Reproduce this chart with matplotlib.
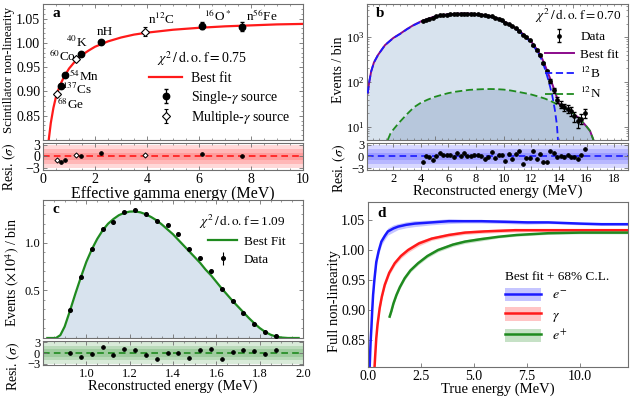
import numpy as np
import matplotlib
matplotlib.use('Agg')
import matplotlib.pyplot as plt
from matplotlib.ticker import MultipleLocator, FixedLocator
from matplotlib.lines import Line2D
from matplotlib.patches import Patch

plt.rcParams['font.family'] = ['Liberation Serif', 'DejaVu Serif']
plt.rcParams['mathtext.fontset'] = 'stix'
plt.rcParams['axes.unicode_minus'] = True

# ---------------- data: panel a (non-linearity from gamma sources)
a_fit_x = [0.22, 0.3, 0.4, 0.5, 0.6, 0.7, 0.8, 1.0, 1.25, 1.5, 1.75, 2.0, 2.5,
           3.0, 3.5, 4.0, 5.0, 6.0, 7.0, 8.0, 9.0, 10.0]
a_fit_y = [0.80, 0.835, 0.866, 0.889, 0.905, 0.918, 0.929, 0.947, 0.963, 0.975,
           0.984, 0.992, 1.003, 1.011, 1.017, 1.021, 1.027, 1.031, 1.034, 1.036,
           1.038, 1.039]
single_names = [r'$^{137}$Cs', r'$^{54}$Mn', r'$^{40}$K', 'nH', r'$^{16}$O$^*$', r'n$^{56}$Fe']
single_x = [0.68, 0.86, 1.47, 2.24, 6.13, 7.67]
single_y = [0.912, 0.934, 0.977, 1.002, 1.035, 1.033]
single_err = [0.003, 0.003, 0.003, 0.003, 0.007, 0.009]
single_res = [-1.5, -0.95, 0.2, 0.9, 0.65, 0.0]
multi_names = [r'$^{68}$Ge', r'$^{60}$Co', r'n$^{12}$C']
multi_x = [0.54, 1.27, 3.91]
multi_y = [0.894, 0.967, 1.023]
multi_err = [0.003, 0.003, 0.009]
multi_res = [-0.8, 0.3, 0.35]
# label anchor (left, centre) for each source name, same order as above
single_lab_x = [0.75, 1.0, 0.88, 2.05, 6.2, 7.82]
single_lab_y = [0.904, 0.932, 1.0, 1.023, 1.055, 1.055]
multi_lab_x = [0.54, 0.24, 4.04]
multi_lab_y = [0.874, 0.972, 1.048]

# ---------------- data: panel b (12B / 12N spectrum)
b_fit_x = [0.15, 0.25, 0.4, 0.6, 0.9, 1.4, 2.0, 2.5, 3.0, 3.5, 4.0, 4.5, 5.0, 5.5,
           6.0, 6.5, 7.0, 7.5, 8.0, 8.5, 9.0, 9.5, 10.0, 10.5, 11.0, 11.5, 12.0,
           12.5, 12.75, 13.0, 13.25, 13.5, 13.7, 13.85, 14.0, 14.5, 15.0, 15.5,
           16.0, 16.25, 16.5]
b_fit_y = [55, 95, 170, 270, 400, 660, 955, 1190, 1520, 1880, 2240, 2550, 2900,
           3100, 3240, 3320, 3365, 3345, 3270, 3150, 2950, 2665, 2260, 1860, 1480,
           1115, 790, 485, 350, 230, 145, 92, 62, 45, 32, 25, 20, 15, 10, 8, 5]
b12_x = [0.15, 0.25, 0.4, 0.6, 0.9, 1.4, 2.0, 2.5, 3.0, 3.5, 4.0, 4.5, 5.0, 5.5,
         6.0, 6.5, 7.0, 7.5, 8.0, 8.5, 9.0, 9.5, 10.0, 10.5, 11.0, 11.5, 12.0,
         12.5, 12.75, 13.0, 13.25, 13.5, 13.7, 13.85, 13.95]
b12_y = [55, 95, 170, 270, 400, 660, 950, 1180, 1500, 1850, 2200, 2500, 2850,
         3050, 3180, 3260, 3300, 3280, 3200, 3080, 2880, 2600, 2200, 1800, 1420,
         1060, 740, 440, 310, 190, 105, 52, 24, 11, 4]
n12_x = [1.6, 1.8, 2.0, 2.4, 3.0, 3.5, 4.0, 4.5, 5.0, 5.5, 6.0, 6.5, 7.0, 7.5, 8.0,
         8.5, 9.0, 9.5, 10.0, 10.5, 11.0, 11.5, 12.0, 12.5, 13.0, 13.5, 14.0,
         14.5, 15.0, 15.5, 16.0, 16.25, 16.5]
n12_y = [5, 7, 8.5, 12, 19, 27, 34, 40, 46, 51, 56, 60, 63, 66, 67.5, 68.5, 69,
         68.5, 67, 64, 60, 56, 52, 47, 42, 36, 30, 25, 20, 15, 10, 8, 5]
b_data_x = [4.125 + 0.25 * i for i in range(48)]
b_data_y = [2300, 2420, 2570, 2730, 2940, 3050, 3110, 3190, 3260, 3290, 3330, 3350,
            3370, 3340, 3320, 3290, 3230, 3190, 3090, 3020, 2900, 2730, 2570, 2380,
            2110, 1930, 1740, 1570, 1350, 1140, 1010, 845, 650, 520, 390, 265, 175,
            104, 64, 40, 31, 27, 25, 22, 17, 13, 15, 20]
b_res = [-1.3, 0.2, -0.2, -0.9, 0.0, 0.8, 0.35, 0.35, 0.35, -0.2, 0.85, 0.0,
         0.9, 0.1, 0.0, 0.35, 0.35, 0.2, -0.55, -0.2, 1.1, -0.35, 0.35, 0.35,
         -1.15, 0.7, -0.6, 0.55, 1.5, -2.0, -0.35, -0.35, 1.3, -0.55, 0.7, -1.3,
         -1.3, 1.4, 0.9, -0.25, 0.1, -0.25, 0.5, -0.2, -0.25, -0.55, 0.4, 2.0]

# ---------------- data: panel c (low energy spectrum, x 10^4)
c_fit_x = [0.82, 0.86, 0.88, 0.90, 0.925, 0.95, 0.975, 1.0, 1.025, 1.05, 1.075,
           1.10, 1.125, 1.15, 1.175, 1.20, 1.225, 1.25, 1.275, 1.30, 1.325, 1.35,
           1.375, 1.40, 1.425, 1.45, 1.475, 1.50, 1.525, 1.55, 1.575, 1.60, 1.625,
           1.65, 1.675, 1.70, 1.725, 1.75, 1.775, 1.80, 1.825, 1.85, 1.875, 1.90,
           1.93, 1.98]
c_fit_y = [0.0, 0.0, 0.03, 0.12, 0.29, 0.47, 0.64, 0.80, 0.93, 1.04, 1.13, 1.20,
           1.25, 1.29, 1.315, 1.328, 1.33, 1.32, 1.30, 1.27, 1.235, 1.19, 1.14,
           1.09, 1.03, 0.97, 0.91, 0.85, 0.79, 0.72, 0.66, 0.59, 0.52, 0.455, 0.39,
           0.33, 0.27, 0.21, 0.155, 0.105, 0.065, 0.035, 0.015, 0.005, 0.0, 0.0]
c_data_x = [0.925, 0.975, 1.025, 1.075, 1.125, 1.175, 1.225, 1.275, 1.325, 1.375,
            1.425, 1.475, 1.525, 1.575, 1.625, 1.675, 1.725, 1.775, 1.825, 1.875]
c_data_y = [0.29, 0.64, 0.933, 1.15, 1.22, 1.32, 1.34, 1.30, 1.23, 1.19, 1.09,
            0.94, 0.84, 0.70, 0.51, 0.39, 0.264, 0.148, 0.067, 0.017]
c_res = [0.0, -1.25, -0.3, 1.65, -0.65, 1.15, 0.75, -0.45, -1.7, 0.05, 0.05,
         -1.5, 0.75, 1.25, -1.8, 0.35, 0.95, 0.55, -0.25, 0.9]

# ---------------- data: panel d (full non-linearity)
de_x = [0.05, 0.08, 0.12, 0.16, 0.2, 0.24, 0.3, 0.39, 0.5, 0.63, 0.8, 0.94, 1.2,
        1.42, 1.8, 2.2, 3.0, 3.8, 4.5, 5.35, 6.5, 7.5, 8.5, 10.0, 11.0, 12.25]
de_y = [0.75, 0.806, 0.845, 0.87, 0.90, 0.925, 0.95, 0.98, 0.998, 1.014, 1.024,
        1.031, 1.036, 1.039, 1.042, 1.044, 1.046, 1.048, 1.048, 1.048, 1.047,
        1.046, 1.046, 1.044, 1.043, 1.043]
de_err = [0.006, 0.006, 0.006, 0.006, 0.006, 0.006, 0.006, 0.006, 0.006, 0.006,
          0.006, 0.006, 0.006, 0.005, 0.005, 0.005, 0.004, 0.004, 0.003, 0.003,
          0.003, 0.003, 0.002, 0.002, 0.002, 0.002]
dg_x = [0.28, 0.31, 0.35, 0.39, 0.45, 0.55, 0.65, 0.79, 1.0, 1.26, 1.55, 1.89,
        2.4, 3.0, 3.8, 4.57, 5.5, 6.93, 8.5, 10.0, 12.25]
dg_y = [0.78, 0.806, 0.83, 0.853, 0.876, 0.903, 0.922, 0.942, 0.962, 0.978, 0.99,
        1.0, 1.011, 1.019, 1.025, 1.029, 1.031, 1.033, 1.033, 1.033, 1.033]
dg_err = [0.004, 0.004, 0.004, 0.004, 0.004, 0.004, 0.004, 0.004, 0.004, 0.004,
          0.004, 0.004, 0.004, 0.003, 0.003, 0.003, 0.003, 0.003, 0.002, 0.002, 0.002]
dp_x = [1.02, 1.1, 1.2, 1.34, 1.5, 1.73, 2.0, 2.36, 2.8, 3.3, 4.0, 4.57, 5.3,
        6.14, 7.0, 8.5, 10.0, 12.25]
dp_y = [0.889, 0.898, 0.911, 0.925, 0.938, 0.953, 0.966, 0.978, 0.99, 1.0, 1.009,
        1.014, 1.018, 1.022, 1.025, 1.028, 1.029, 1.029]
dp_err = [0.003, 0.003, 0.003, 0.003, 0.003, 0.003, 0.003, 0.003, 0.003, 0.003,
          0.003, 0.003, 0.003, 0.002, 0.002, 0.002, 0.002, 0.002]

RED = '#ff1a1a'
BLUE = '#1a1aff'
GREEN = '#1f8a1f'
PURPLE = '#8b0a8b'
FRAME = '#707070'
FILL = '#d8e3ee'
FILL2 = '#b7c7dc'

W, H = 635, 398
fig = plt.figure(figsize=(W / 100, H / 100), dpi=100)


def px_axes(l, t, r, b):
    return fig.add_axes([l / W, 1 - b / H, (r - l) / W, (b - t) / H])


def style(ax, size=9):
    for s in ax.spines.values():
        s.set_color(FRAME)
        s.set_linewidth(0.8)
    ax.tick_params(which='both', direction='in', top=True, right=True,
                   color=FRAME, labelsize=size, pad=2)
    ax.tick_params(which='major', length=3, width=0.6)
    ax.tick_params(which='minor', length=1.5, width=0.5)


def resid(ax, color, xs, ys, marker='o', ms=2.6, mfc='black'):
    for k in (3, 2, 1):
        ax.axhspan(-k, k, color=color, alpha=0.17, lw=0, zorder=0)
    ax.axhline(0, color=color, ls='--', lw=1.2, dashes=(4, 2.5), zorder=1)
    ax.plot(xs, ys, ls='none', marker=marker, ms=ms, color='black', mfc=mfc,
            mew=0.7, zorder=3)
    ax.set_ylim(-3.4, 3.4)
    ax.set_yticks([-3, 0, 3])
    ax.set_yticklabels(['\u22123', '0', '3'])


def chi_text(ax, x, y, val, size):
    ax.text(x, y, r'$\chi^2\,/\,\mathrm{d.o.f}=$' + f'{val:.2f}', transform=ax.transAxes,
            fontsize=size, ha='left', va='center')


# ======================= panel a
ax = px_axes(43, 4, 303, 140)
rx = px_axes(43, 143, 303, 170)
style(ax, 10)
style(rx, 10)
fit_line, = ax.plot(a_fit_x, a_fit_y, color=RED, lw=1.6, zorder=2)
eb1 = ax.errorbar(single_x, single_y, yerr=single_err, fmt='o', ms=4.6, color='black',
                  elinewidth=0.9, capsize=1.5, zorder=4)
eb2 = ax.errorbar(multi_x, multi_y, yerr=multi_err, fmt='D', ms=3.8, color='black',
                  mfc='white', mew=0.8, elinewidth=0.9, capsize=1.5, zorder=4)
for name, lx, ly in zip(single_names + multi_names, single_lab_x + multi_lab_x,
                        single_lab_y + multi_lab_y):
    ax.text(lx, ly, name, fontsize=9.5, ha='left', va='center')
ax.set_xlim(0, 10)
ax.set_ylim(0.80, 1.08)
ax.yaxis.set_major_locator(FixedLocator([0.85, 0.90, 0.95, 1.00, 1.05]))
ax.yaxis.set_major_formatter(plt.FormatStrFormatter('%.2f'))
ax.yaxis.set_minor_locator(MultipleLocator(0.01))
ax.xaxis.set_minor_locator(MultipleLocator(0.5))
ax.tick_params(labelbottom=False)
ax.text(0.035, 0.93, 'a', transform=ax.transAxes, fontsize=11, fontweight='bold',
        ha='left', va='center')
chi_text(ax, 0.44, 0.60, 0.75, 10)
ax.legend([fit_line, eb1, eb2], ['Best fit', r'Single-$\gamma$ source', r'Multiple-$\gamma$ source'],
          loc='upper left', bbox_to_anchor=(0.37, 0.57), frameon=False, fontsize=10,
          handlelength=2.4, labelspacing=0.25, borderpad=0.2, handletextpad=0.6)
resid(rx, RED, single_x, single_res)
rx.plot(multi_x, multi_res, ls='none', marker='D', ms=2.6, color='black', mfc='white',
        mew=0.7, zorder=3)
rx.set_xlim(0, 10)
rx.xaxis.set_major_locator(MultipleLocator(2))
rx.xaxis.set_minor_locator(MultipleLocator(0.5))
rx.set_xlabel('Effective gamma energy (MeV)', fontsize=11.5, labelpad=0)
fig.text(9 / W, 1 - 70 / H, 'Scintillator non-linearity', rotation=90, fontsize=9.3,
         ha='center', va='center')
fig.text(9 / W, 1 - 167 / H, r'Resi. $(\sigma)$', rotation=90, fontsize=9.8,
         ha='center', va='center')

# ======================= panel b
bx = px_axes(367, 4, 628, 140)
brx = px_axes(367, 143, 628, 170)
style(bx, 9)
style(brx, 9)
bx.fill_between(b_fit_x, 1, b_fit_y, color=FILL, lw=0, zorder=0)
bx.fill_between(n12_x, 1, n12_y, color=FILL2, lw=0, zorder=0)
ebb = bx.errorbar(b_data_x, b_data_y, yerr=np.sqrt(b_data_y), fmt='o', ms=2.4,
                  color='black', elinewidth=0.8, capsize=1.2, zorder=4)
fitb, = bx.plot(b_fit_x, b_fit_y, color=PURPLE, lw=1.4, zorder=2)
l12b, = bx.plot(b12_x, b12_y, color=BLUE, lw=1.3, ls='--', dashes=(4, 2), zorder=3)
l12n, = bx.plot(n12_x, n12_y, color=GREEN, lw=1.3, ls='--', dashes=(4, 2), zorder=3)
bx.set_yscale('log')
bx.set_xlim(0.1, 19)
bx.set_ylim(5, 5500)
bx.xaxis.set_minor_locator(MultipleLocator(0.5))
bx.tick_params(labelbottom=False)
bx.text(0.035, 0.93, 'b', transform=bx.transAxes, fontsize=11, fontweight='bold',
        ha='left', va='center')
chi_text(bx, 0.645, 0.915, 0.70, 9.5)
bx.legend([ebb, fitb, l12b, l12n], ['Data', 'Best fit', r'$^{12}$B', r'$^{12}$N'],
          loc='upper right', bbox_to_anchor=(1.0, 0.87), frameon=False, fontsize=9.5,
          handlelength=2.2, labelspacing=0.4, borderpad=0.2, handletextpad=0.5)
resid(brx, BLUE, b_data_x, b_res)
brx.set_xlim(0.1, 19)
brx.xaxis.set_major_locator(MultipleLocator(2))
brx.xaxis.set_minor_locator(MultipleLocator(0.5))
brx.set_xlabel('Reconstructed energy (MeV)', fontsize=10.5, labelpad=0)
fig.text(339 / W, 1 - 70 / H, 'Events / bin', rotation=90, fontsize=10,
         ha='center', va='center')
fig.text(339 / W, 1 - 168 / H, r'Resi. $(\sigma)$', rotation=90, fontsize=10,
         ha='center', va='center')

# ======================= panel c
cx = px_axes(43, 200, 303, 338)
crx = px_axes(43, 341, 303, 365)
style(cx, 9)
style(crx, 9)
cx.fill_between(c_fit_x, 0, c_fit_y, color=FILL, lw=0, zorder=0)
fitc, = cx.plot(c_fit_x, c_fit_y, color=GREEN, lw=1.6, zorder=2)
ebc = cx.errorbar(c_data_x, c_data_y, yerr=0.018, fmt='o', ms=2.6, color='black',
                  elinewidth=0.8, capsize=0, zorder=4)
cx.set_xlim(0.8, 2.0)
cx.set_ylim(0, 1.45)
cx.set_yticks([0.5, 1.0])
cx.yaxis.set_minor_locator(MultipleLocator(0.1))
cx.xaxis.set_minor_locator(MultipleLocator(0.05))
cx.tick_params(labelbottom=False)
cx.text(0.035, 0.93, 'c', transform=cx.transAxes, fontsize=11, fontweight='bold',
        ha='left', va='center')
chi_text(cx, 0.6, 0.84, 1.09, 9.5)
cx.legend([fitc, ebc], ['Best Fit', 'Data'], loc='upper left',
          bbox_to_anchor=(0.6, 0.81), frameon=False, fontsize=9.5,
          handlelength=2.2, labelspacing=0.45, borderpad=0.2, handletextpad=0.5)
resid(crx, GREEN, c_data_x, c_res)
crx.set_xlim(0.8, 2.0)
crx.xaxis.set_major_locator(FixedLocator([1.0, 1.2, 1.4, 1.6, 1.8, 2.0]))
crx.xaxis.set_major_formatter(plt.FormatStrFormatter('%.1f'))
crx.xaxis.set_minor_locator(MultipleLocator(0.05))
crx.set_xlabel('Reconstructed energy (MeV)', fontsize=10.5, labelpad=0)
fig.text(13 / W, 1 - 272 / H, r'Events $(\times10^4)$ / bin', rotation=90, fontsize=10,
         ha='center', va='center')
fig.text(13 / W, 1 - 366 / H, r'Resi. $(\sigma)$', rotation=90, fontsize=10,
         ha='center', va='center')

# ======================= panel d
dx = px_axes(368, 202, 628, 367)
style(dx, 10)
handles = []
for xs, ys, err, col in [(de_x, de_y, de_err, BLUE), (dg_x, dg_y, dg_err, RED),
                         (dp_x, dp_y, dp_err, GREEN)]:
    lo = [y - e for y, e in zip(ys, err)]
    hi = [y + e for y, e in zip(ys, err)]
    dx.fill_between(xs, lo, hi, color=col, alpha=0.25, lw=0)
    dx.plot(xs, ys, color=col, lw=1.8)
    handles.append((Patch(color=col, alpha=0.25, lw=0), Line2D([], [], color=col, lw=1.8)))
dx.set_xlim(0, 12.25)
dx.set_ylim(0.805, 1.08)
dx.xaxis.set_major_locator(MultipleLocator(2.5))
dx.xaxis.set_major_formatter(plt.FormatStrFormatter('%.1f'))
dx.yaxis.set_major_locator(FixedLocator([0.85, 0.90, 0.95, 1.00, 1.05]))
dx.yaxis.set_major_formatter(plt.FormatStrFormatter('%.2f'))
dx.tick_params(which='both', top=False, right=False)
dx.text(0.035, 0.93, 'd', transform=dx.transAxes, fontsize=11, fontweight='bold',
        ha='left', va='center')
leg = dx.legend(handles, [r'$e^{-}$', r'$\gamma$', r'$e^{+}$'], loc='upper left',
                bbox_to_anchor=(0.49, 0.64), frameon=False, fontsize=10,
                title='Best fit + 68% C.L.', title_fontsize=9.5, alignment='left',
                handlelength=2.6, handleheight=1.1, labelspacing=0.35,
                borderpad=0.2, handletextpad=0.8)
dx.set_xlabel('True energy (MeV)', fontsize=10.5, labelpad=0)
fig.text(335 / W, 1 - 301 / H, 'Full non-linearity', rotation=90, fontsize=10.5,
         ha='center', va='center')

fig.savefig('out.png', dpi=100)
